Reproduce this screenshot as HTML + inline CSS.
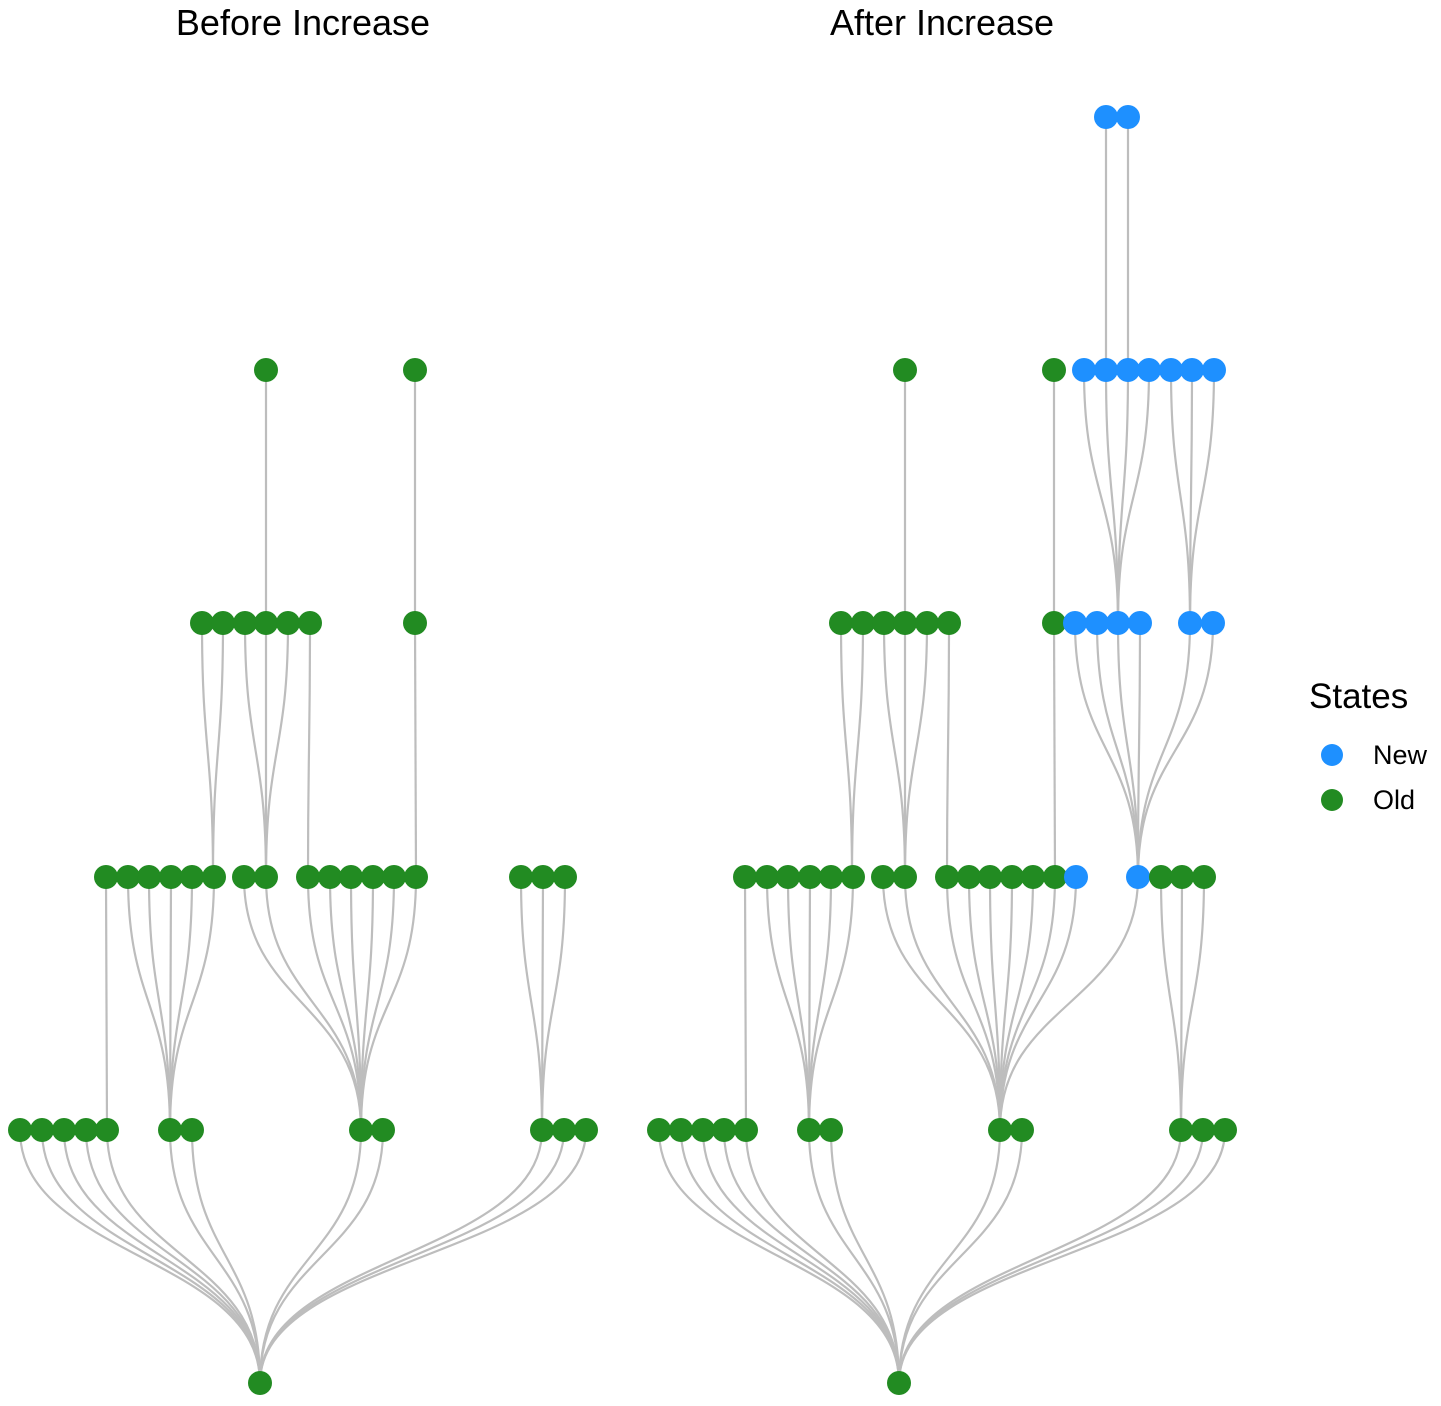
<!DOCTYPE html>
<html><head><meta charset="utf-8"><style>
html,body{margin:0;padding:0;background:#fff;}
svg{display:block;}
text{font-family:"Liberation Sans",Arial,sans-serif;fill:#000;}
</style></head><body>
<svg id="s" width="1441" height="1406" viewBox="0 0 1441 1406" xmlns="http://www.w3.org/2000/svg">
<g id="e" fill="none" stroke="#bdbdbd" stroke-width="2.2"></g>
<g id="n"></g>
<text x="303" y="35" font-size="36" text-anchor="middle">Before Increase</text>
<text x="942" y="35" font-size="36" text-anchor="middle">After Increase</text>
<text x="1309" y="708" font-size="35">States</text>
<circle cx="1332" cy="755" r="11" fill="#1E90FF"/>
<text x="1373" y="764" font-size="27">New</text>
<circle cx="1332" cy="800" r="11" fill="#228B22"/>
<text x="1373" y="809" font-size="27">Old</text>
</svg>
<script>
var G="#228B22",B="#1E90FF";
var Y=[1383,1130,877,623,370,117];
var eg=document.getElementById('e'),ng=document.getElementById('n');
var ns="http://www.w3.org/2000/svg";
var nodes=[];
function edge(x1,l1,x2,l2){var y1=Y[l1],y2=Y[l2],m=(y1+y2)/2;var p=document.createElementNS(ns,'path');
p.setAttribute('d','M'+x1+','+y1+' C'+x1+','+m+' '+x2+','+m+' '+x2+','+y2);eg.appendChild(p);}
function node(x,l,c){nodes.push([x,Y[l],c||G]);}
function grp(xs,l,px,c){xs.forEach(function(x){node(x,l,c);edge(x,l,px,l-1);});}
node(260,0);
grp([20,42,64,86,107,170,192,361,383,542,564,586],1,260);
grp([106],2,107);grp([128,149,171,192,214],2,170);grp([244,266,308,330,351,373,394,416],2,361);grp([521,543,565],2,542);
grp([202,223],3,213);grp([245,266,288],3,266);grp([310],3,308);grp([415],3,416);
grp([266],4,266);grp([415],4,415);
node(899,0);
grp([659,681,703,724,746,809,831,1000,1022,1181,1203,1225],1,899);
grp([745],2,746);grp([767,788,810,831,853],2,809);
grp([883,905,947,969,990,1012,1033,1055],2,1000);grp([1076,1138],2,1000,B);
grp([1161,1182,1204],2,1181);
grp([841,863],3,852);grp([884,905,927],3,905);grp([949],3,947);grp([1054],3,1055);
grp([1075,1097,1118,1140,1190,1213],3,1138,B);
grp([905],4,905);grp([1054],4,1054);
grp([1084,1106,1128,1149],4,1118,B);grp([1171,1192,1214],4,1190,B);
grp([1106],5,1106,B);grp([1128],5,1128,B);
nodes.forEach(function(n){var c=document.createElementNS(ns,'circle');c.setAttribute('cx',n[0]);c.setAttribute('cy',n[1]);c.setAttribute('r',12);c.setAttribute('fill',n[2]);ng.appendChild(c);});
</script>
</body></html>
